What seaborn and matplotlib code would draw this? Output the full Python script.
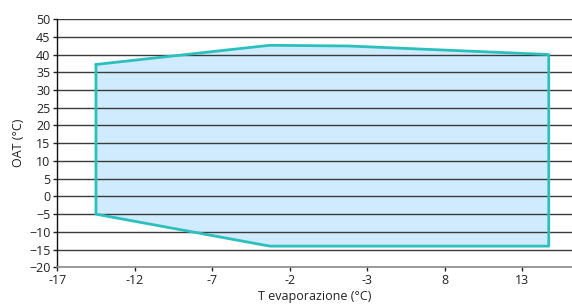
import pandas as pd
import seaborn as sns
import matplotlib
matplotlib.use("Agg")
import matplotlib.pyplot as plt

# envelope vertices (T evaporazione, OAT)
t_evap = [-14.5, -3.3, 1.8, 14.7, 14.7, -3.3, -14.5, -14.5]
oat = [37.2, 42.6, 42.4, 40.0, -14.0, -14.0, -5.0, 37.2]

x_ticks = [-17, -12, -7, -2, 3, 8, 13]
x_tick_labels = ["-17", "-12", "-7", "-2", "-3", "8", "13"]
y_ticks = list(range(-20, 55, 5))

env = pd.DataFrame({"T": t_evap, "OAT": oat})

sns.set_theme(style="white")
plt.rcParams["font.family"] = ["Open Sans", "DejaVu Sans"]

fig = plt.figure(figsize=(5.72, 3.07), dpi=100)
ax = fig.add_axes([0.1, 0.129, 0.9, 0.809])

ax.fill(env["T"], env["OAT"], color="#cfebfd", zorder=1)
for y in y_ticks[1:]:
    ax.axhline(y, color="#3a3a3a", lw=1.0, zorder=2)
sns.lineplot(data=env, x="T", y="OAT", sort=False, estimator=None,
             color="#2cc0bd", lw=2, ax=ax, zorder=3)

ax.set_xlim(-17, 16.2)
ax.set_ylim(-20, 50)
ax.set_xticks(x_ticks)
ax.set_xticklabels(x_tick_labels)
ax.set_yticks(y_ticks)
ax.tick_params(axis="both", labelsize=9, colors="#222222", length=3, width=1,
               direction="out", pad=2)
ax.xaxis.set_ticks_position("bottom")
ax.yaxis.set_ticks_position("left")

ax.set_xlabel("T evaporazione (°C)", fontsize=9, color="#222222", labelpad=2)
ax.set_ylabel("OAT (°C)", fontsize=9, color="#222222", labelpad=3)

for s in ["top", "right"]:
    ax.spines[s].set_visible(False)
ax.spines["left"].set_color("#111111")
ax.spines["left"].set_linewidth(1)
ax.spines["bottom"].set_color("#888888")
ax.spines["bottom"].set_linewidth(1.2)

fig.savefig("out.png", dpi=100)
